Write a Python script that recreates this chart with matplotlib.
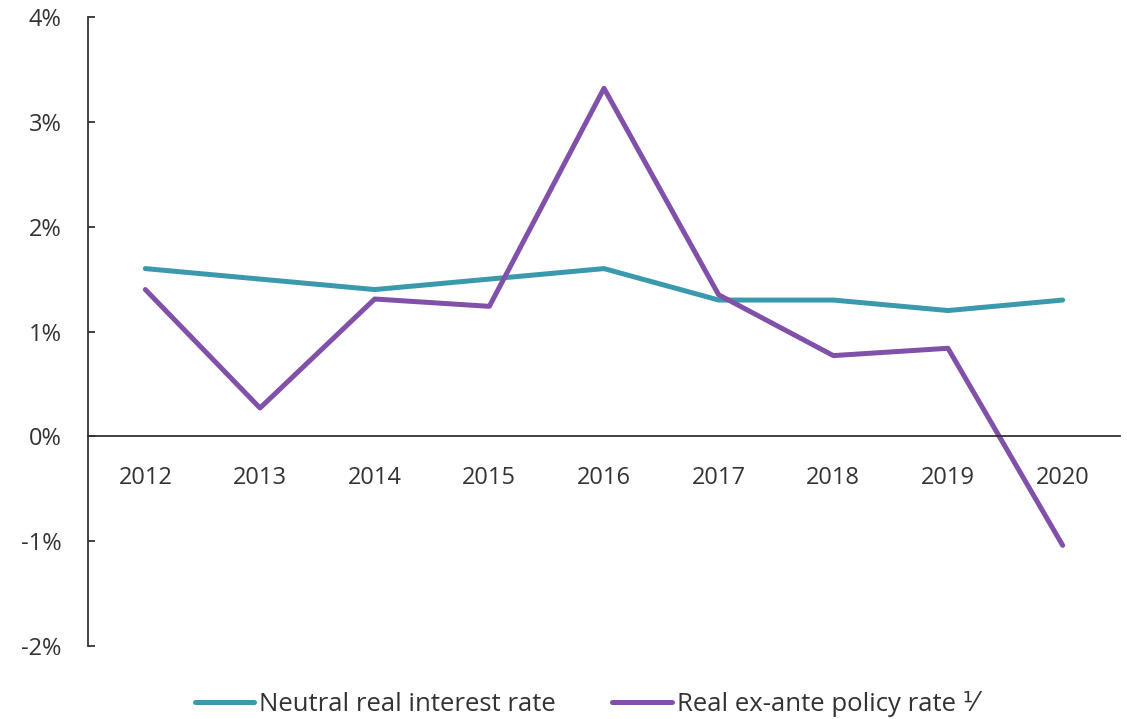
import matplotlib.pyplot as plt
import numpy as np

# ---- data ----
years = ['2012', '2013', '2014', '2015', '2016', '2017', '2018', '2019', '2020']
neutral_rate = [1.6, 1.5, 1.4, 1.5, 1.6, 1.3, 1.3, 1.2, 1.3]
policy_rate = [1.40, 0.27, 1.31, 1.24, 3.32, 1.35, 0.77, 0.84, -1.04]
y_ticks = [-2, -1, 0, 1, 2, 3, 4]

teal = '#3a99ac'
purple = '#8150a9'
ink = '#333333'

plt.rcParams['font.family'] = ['Open Sans', 'DejaVu Sans']

fig = plt.figure(figsize=(11.27, 7.19), dpi=100)
ax = fig.add_axes([88 / 1127, 73 / 719, 1032 / 1127, 629 / 719])

x = np.arange(len(years))
ax.plot(x, neutral_rate, color=teal, lw=3.6, solid_capstyle='round',
        label='Neutral real interest rate')
ax.plot(x, policy_rate, color=purple, lw=3.6, solid_capstyle='round',
        label='Real ex-ante policy rate \u215f')

ax.set_xlim(-0.5, len(years) - 0.5)
ax.set_ylim(-2, 4)

# category axis sits on the zero line
for s in ['top', 'right']:
    ax.spines[s].set_visible(False)
ax.spines['bottom'].set_position(('data', 0))
ax.spines['bottom'].set_color(ink)
ax.spines['bottom'].set_linewidth(1.3)
ax.spines['left'].set_color(ink)
ax.spines['left'].set_linewidth(1.3)

ax.set_xticks(x)
ax.set_xticklabels(years)
ax.tick_params(axis='x', length=0, pad=21, labelsize=17, labelcolor=ink)

ax.set_yticks(y_ticks)
ax.set_yticklabels([f'{v}%' for v in y_ticks])
ax.tick_params(axis='y', direction='in', length=5, width=1.3, color=ink,
               pad=19, labelsize=17, labelcolor=ink)

fig.legend(loc='lower center', bbox_to_anchor=(0.52, -0.03), ncol=2,
           frameon=False, fontsize=18.5, handlelength=2.3, handletextpad=0.2,
           columnspacing=2.2, labelcolor=ink)

fig.savefig('out.png', dpi=100)
